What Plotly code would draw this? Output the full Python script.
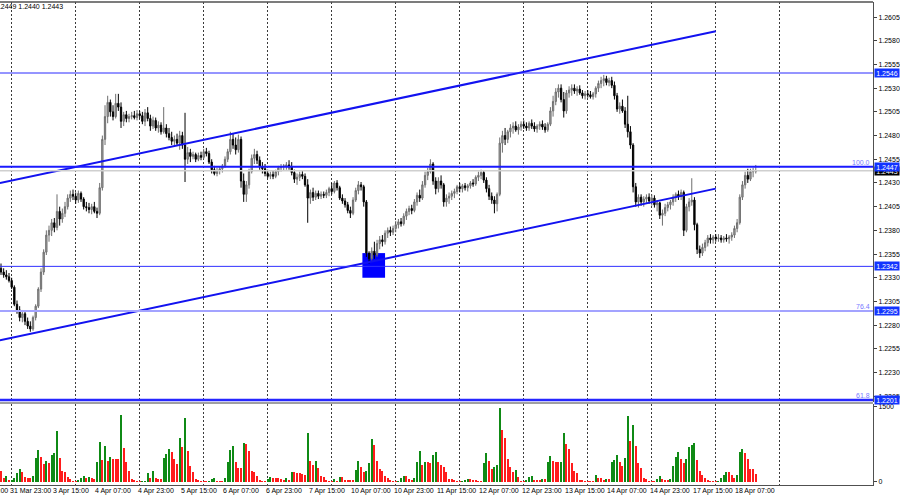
import plotly.graph_objects as go

# ---------------- data (H1 bars, prices in pips above 1.2000) ----------------
PRICE_BASE = 1.2
PIP = 0.0001

O_PIPS = [
    340, 336, 333, 331, 327, 320, 302, 296, 288, 292,
    284, 279, 276, 288, 300, 318, 336, 357, 375, 380,
    388, 383, 400, 392, 398, 405, 414, 418, 416, 412,
    419, 413, 405, 404, 402, 405, 400, 398, 425, 476,
    500, 515, 505, 500, 514, 510, 495, 502, 498, 500,
    501, 499, 503, 501, 495, 504, 498, 490, 496, 488,
    491, 484, 488, 482, 478, 474, 476, 472, 480, 470,
    455, 462, 458, 460, 455, 459, 457, 463, 461, 452,
    444, 440, 443, 445, 448, 455, 463, 476, 470, 465,
    476, 432, 418, 428, 442, 456, 460, 454, 447, 445,
    440, 437, 439, 437, 442, 446, 447, 448, 449, 447,
    441, 434, 436, 439, 437, 428, 414, 420, 415, 419,
    416, 418, 417, 420, 424, 421, 430, 425, 414, 411,
    407, 401, 398, 412, 422, 428, 426, 410, 356, 350,
    358, 354, 366, 370, 368, 377, 380, 378, 382, 386,
    389, 387, 395, 400, 403, 401, 410, 417, 414, 428,
    438, 442, 450, 432, 424, 432, 428, 410, 414, 416,
    419, 421, 426, 424, 427, 425, 427, 430, 429, 436,
    438, 441, 433, 424, 416, 412, 408, 418, 472, 480,
    476, 484, 488, 490, 486, 489, 492, 490, 488, 493,
    490, 487, 490, 492, 489, 486, 492, 506, 516, 526,
    530, 518, 506, 525, 528, 530, 527, 529, 525, 522,
    524, 523, 521, 524, 530, 535, 538, 540, 536, 538,
    533, 522, 508, 511, 506, 492, 484, 470, 426, 410,
    415, 410, 413, 415, 411, 414, 407, 409, 396, 398,
    404, 407, 410, 415, 418, 416, 420, 380, 405, 410,
    412, 386, 360, 356, 362, 367, 372, 370, 373, 371,
    372, 370, 372, 371, 373, 375, 382, 388, 415, 428,
    438, 434, 442, 442,
]
H_PIPS = [
    345, 340, 338, 335, 330, 322, 306, 300, 296, 294,
    288, 284, 290, 302, 320, 340, 360, 380, 385, 392,
    393, 418, 405, 403, 410, 418, 422, 423, 420, 422,
    421, 415, 410, 409, 408, 410, 404, 430, 480, 512,
    522, 518, 512, 524, 524, 515, 505, 506, 503, 505,
    506, 507, 506, 505, 508, 510, 502, 500, 499, 495,
    494, 510, 492, 488, 484, 480, 482, 485, 484, 504,
    468, 466, 463, 462, 462, 463, 466, 467, 464, 455,
    448, 446, 447, 450, 458, 466, 484, 482, 478, 481,
    479, 440, 432, 445, 460, 466, 464, 458, 452, 450,
    444, 442, 443, 444, 448, 450, 450, 452, 454, 452,
    444, 440, 442, 443, 440, 434, 423, 425, 422, 422,
    421, 421, 423, 426, 430, 432, 433, 427, 418, 414,
    410, 405, 415, 425, 432, 431, 428, 412, 358, 362,
    368, 370, 374, 375, 380, 383, 384, 385, 390, 392,
    393, 398, 403, 406, 407, 413, 420, 423, 432, 442,
    446, 455, 452, 436, 436, 438, 430, 418, 420, 422,
    424, 428, 430, 429, 430, 429, 432, 434, 438, 442,
    444, 443, 436, 428, 420, 416, 420, 478, 485, 488,
    486, 492, 494, 495, 492, 495, 496, 494, 495, 497,
    494, 492, 495, 496, 493, 494, 510, 522, 530, 534,
    534, 526, 528, 532, 534, 534, 532, 533, 528, 527,
    528, 527, 526, 532, 538, 542, 544, 543, 541, 542,
    537, 525, 515, 518, 510, 522, 490, 472, 430, 418,
    418, 416, 418, 419, 418, 417, 412, 410, 402, 408,
    410, 412, 418, 420, 422, 423, 422, 408, 414, 435,
    415, 388, 364, 366, 370, 375, 376, 375, 376, 376,
    375, 374, 376, 375, 378, 385, 392, 418, 432, 442,
    445, 445, 446, 449,
]
L_PIPS = [
    333, 330, 328, 325, 318, 300, 292, 284, 283, 280,
    276, 273, 274, 285, 298, 315, 333, 354, 368, 374,
    378, 380, 385, 388, 394, 402, 410, 412, 408, 409,
    410, 402, 400, 398, 397, 398, 393, 396, 422, 470,
    493, 500, 496, 498, 506, 488, 490, 494, 494, 497,
    497, 496, 498, 492, 490, 495, 485, 487, 485, 483,
    481, 482, 478, 475, 470, 468, 470, 465, 466, 431,
    450, 452, 455, 452, 453, 454, 455, 458, 450, 440,
    438, 437, 439, 441, 446, 452, 460, 466, 460, 462,
    425, 410, 410, 424, 440, 450, 450, 444, 440, 437,
    435, 434, 434, 435, 438, 442, 443, 444, 444, 438,
    430, 428, 432, 434, 426, 388, 408, 411, 412, 413,
    413, 414, 414, 416, 418, 419, 422, 412, 408, 404,
    398, 393, 396, 410, 418, 422, 405, 352, 345, 348,
    350, 352, 360, 363, 365, 372, 374, 375, 378, 382,
    384, 385, 391, 396, 397, 399, 406, 410, 412, 425,
    433, 440, 428, 418, 420, 424, 405, 405, 408, 412,
    414, 418, 420, 420, 422, 421, 424, 426, 427, 432,
    434, 430, 420, 412, 408, 398, 400, 416, 462, 470,
    472, 478, 482, 484, 481, 485, 487, 485, 485, 487,
    484, 483, 486, 486, 483, 484, 490, 500, 512, 520,
    515, 499, 503, 520, 522, 524, 522, 523, 519, 518,
    520, 519, 518, 520, 526, 530, 532, 533, 532, 530,
    518, 505, 503, 504, 488, 478, 466, 420, 405, 404,
    406, 405, 408, 408, 406, 404, 400, 392, 385, 395,
    400, 402, 406, 410, 412, 412, 374, 378, 400, 406,
    380, 355, 351, 353, 358, 363, 366, 366, 368, 368,
    367, 367, 368, 366, 369, 372, 378, 386, 412, 424,
    430, 432, 436, 440,
]
C_PIPS = [
    336, 333, 331, 327, 320, 302, 296, 288, 292, 284,
    279, 276, 288, 300, 318, 336, 357, 375, 380, 388,
    383, 400, 392, 398, 405, 414, 418, 416, 412, 419,
    413, 405, 404, 402, 405, 400, 398, 425, 476, 500,
    515, 505, 500, 514, 510, 495, 502, 498, 500, 501,
    499, 503, 501, 495, 504, 498, 490, 496, 488, 491,
    484, 488, 482, 478, 474, 476, 472, 480, 470, 455,
    462, 458, 460, 455, 459, 457, 463, 461, 452, 444,
    440, 443, 445, 448, 455, 463, 476, 470, 465, 476,
    432, 418, 428, 442, 456, 460, 454, 447, 445, 440,
    437, 439, 437, 442, 446, 447, 448, 449, 447, 441,
    434, 436, 439, 437, 428, 414, 420, 415, 419, 416,
    418, 417, 420, 424, 421, 430, 425, 414, 411, 407,
    401, 398, 412, 422, 428, 426, 410, 356, 350, 358,
    354, 366, 370, 368, 377, 380, 378, 382, 386, 389,
    387, 395, 400, 403, 401, 410, 417, 414, 428, 438,
    442, 450, 432, 424, 432, 428, 410, 414, 416, 419,
    421, 426, 424, 427, 425, 427, 430, 429, 436, 438,
    441, 433, 424, 416, 412, 408, 418, 472, 480, 476,
    484, 488, 490, 486, 489, 492, 490, 488, 493, 490,
    487, 490, 492, 489, 486, 492, 506, 516, 526, 530,
    518, 506, 525, 528, 530, 527, 529, 525, 522, 524,
    523, 521, 524, 530, 535, 538, 540, 536, 538, 533,
    522, 508, 511, 506, 492, 484, 470, 426, 410, 415,
    410, 413, 415, 411, 414, 407, 409, 396, 398, 404,
    407, 410, 415, 418, 416, 420, 380, 405, 410, 412,
    386, 360, 356, 362, 367, 372, 370, 373, 371, 372,
    370, 372, 371, 373, 375, 382, 388, 415, 428, 438,
    434, 442, 442, 443,
]
VOLUME = [
    207, 67, 113, 27,
    40, 73, 173, 247, 200, 87, 80, 73, 113, 480, 640, 487, 353, 420, 367, 540, 573, 1020, 473, 207, 187, 87, 53, 20,
    20, 27, 73, 113, 73, 100, 73, 53, 387, 800, 433, 720, 420, 487, 453, 450, 445, 1340, 673, 387, 207, 47, 40, 20,
    10, 15, 20, 167, 73, 207, 67, 47, 47, 473, 553, 653, 587, 453, 353, 873, 687, 1287, 607, 320, 200, 47, 33, 10,
    5, 5, 20, 53, 67, 20, 20, 20, 67, 387, 633, 720, 387, 267, 267, 767, 760, 620, 207, 187, 120, 40, 20, 10,
    53, 100, 73, 73, 67, 60, 33, 67, 40, 187, 187, 180, 173, 160, 127, 973, 420, 333, 407, 267, 120, 87, 40, 20,
    20, 47, 20, 100, 95, 40, 40, 40, 40, 233, 420, 300, 187, 207, 367, 853, 733, 420, 253, 207, 120, 73, 33, 15,
    10, 20, 73, 107, 107, 53, 33, 73, 400, 620, 340, 393, 387, 367, 533, 600, 393, 333, 287, 187, 60, 47, 33, 15,
    5, 20, 40, 53, 53, 33, 33, 20, 20, 367, 567, 407, 253, 300, 340, 1473, 1033, 873, 453, 300, 200, 240, 100, 10,
    5, 40, 87, 120, 40, 33, 33, 53, 53, 387, 520, 407, 387, 387, 400, 980, 753, 653, 367, 220, 167, 40, 33, 10,
    10, 10, 5, 140, 73, 73, 40, 53, 53, 387, 433, 533, 400, 320, 473, 1327, 820, 1133, 720, 367, 267, 73, 53, 10,
    10, 10, 53, 120, 53, 40, 40, 53, 320, 487, 600, 453, 367, 453, 700, 733, 773, 433, 220, 140, 67, 33, 20, 10,
    10, 20, 67, 140, 200, 200, 140, 73, 133, 600, 653, 567, 453, 253, 253, 153,
]

TICK_INDEX = [-13, 3, 19, 35, 51, 67, 83, 99, 115, 131, 147, 163, 179, 195, 211, 227, 243, 259, 275]
TICK_LABELS = ["31 Mar 07:00", "31 Mar 23:00", "3 Apr 15:00", "4 Apr 07:00", "4 Apr 23:00",
               "5 Apr 15:00", "6 Apr 07:00", "6 Apr 23:00", "7 Apr 15:00", "10 Apr 07:00",
               "10 Apr 23:00", "11 Apr 15:00", "12 Apr 07:00", "12 Apr 23:00", "13 Apr 15:00",
               "14 Apr 07:00", "14 Apr 23:00", "17 Apr 15:00", "18 Apr 07:00"]
GRID_INDEX = [4, 28, 52, 76, 100, 124, 148, 172, 196, 220, 244, 268, 292]
PRICE_TICKS = [1.2205, 1.2230, 1.2255, 1.2280, 1.2305, 1.2330, 1.2355, 1.2380, 1.2405,
               1.2430, 1.2455, 1.2480, 1.2505, 1.2530, 1.2555, 1.2580, 1.2605]
VOLUME_TICKS = [0, 1500]

LEVEL_PRICES = [1.2546, 1.2447, 1.2342, 1.2295, 1.2201]
LEVEL_COLORS = ["#2a2aff", "#1a1aff", "#3030ff", "#a3a3ff", "#2626ff"]
LEVEL_WIDTHS = [1, 2, 1, 2, 2.5]
FIB_PRICES = [1.2447, 1.2295, 1.2201]
FIB_TEXT = ["100.0", "76.4", "61.8"]
CURRENT_PRICE = 1.2443
HEADER_TEXT = "1.2449 1.2440 1.2443"

TREND_UPPER_X = [-0.4, 268]
TREND_UPPER_Y = [1.2430, 1.2590]
TREND_LOWER_X = [-0.4, 268]
TREND_LOWER_Y = [1.2264, 1.2424]
ZONE_X = [135.5, 144.0]
ZONE_Y = [1.2330, 1.2356]

# ---------------- figure ----------------
X_RANGE = [-0.375, 326.95]
PRICE_RANGE = [1.21989, 1.26209]
VOL_RANGE = [-70, 1560]
PRICE_DOMAIN = [0.1718, 1.0]
VOL_DOMAIN = [0.0, 0.1677]
FONT = "Liberation Sans, Arial, sans-serif"

idx = list(range(len(C_PIPS)))
to_price = lambda arr: [round(PRICE_BASE + v * PIP, 4) for v in arr]
vol_colors = ["#ff1c1c" if (i == 0 or VOLUME[i] <= VOLUME[i - 1]) else "#0f8a15"
              for i in range(len(VOLUME))]

fig = go.Figure()
fig.add_trace(go.Candlestick(
    x=idx, open=to_price(O_PIPS), high=to_price(H_PIPS), low=to_price(L_PIPS), close=to_price(C_PIPS),
    xaxis="x", yaxis="y", whiskerwidth=0, hoverinfo="skip", showlegend=False,
    increasing=dict(line=dict(color="#6e6e6e", width=1), fillcolor="#a6a6a6"),
    decreasing=dict(line=dict(color="#000000", width=1), fillcolor="#000000"),
))
for tx, ty in ((TREND_UPPER_X, TREND_UPPER_Y), (TREND_LOWER_X, TREND_LOWER_Y)):
    fig.add_trace(go.Scatter(x=tx, y=ty, mode="lines", xaxis="x", yaxis="y",
                             line=dict(color="#1212f0", width=2), hoverinfo="skip",
                             showlegend=False, cliponaxis=True))
fig.add_trace(go.Bar(x=idx, y=VOLUME, xaxis="x2", yaxis="y2", width=0.78,
                     marker=dict(color=vol_colors, line=dict(width=0)),
                     hoverinfo="skip", showlegend=False))

shapes = []
shapes.append(dict(type="rect", xref="x", yref="y", x0=ZONE_X[0], x1=ZONE_X[1],
                   y0=ZONE_Y[0], y1=ZONE_Y[1], fillcolor="#0000ff", line=dict(width=0), layer="below"))
shapes.append(dict(type="line", xref="paper", yref="y", x0=0, x1=1, y0=CURRENT_PRICE, y1=CURRENT_PRICE,
                   line=dict(color="#cfcfcf", width=1.5), layer="above"))
for p, c, w in zip(LEVEL_PRICES, LEVEL_COLORS, LEVEL_WIDTHS):
    shapes.append(dict(type="line", xref="paper", yref="y", x0=0, x1=1, y0=p, y1=p,
                       line=dict(color=c, width=w), layer="above"))
# panel separator and frame
shapes.append(dict(type="rect", xref="paper", yref="paper", x0=0, x1=1,
                   y0=VOL_DOMAIN[1], y1=PRICE_DOMAIN[0], fillcolor="#a0a0a0", line=dict(width=0)))
shapes.append(dict(type="line", xref="paper", yref="paper", x0=0, x1=1, y0=1, y1=1,
                   line=dict(color="#505050", width=1.5)))

annotations = []
def to_paper(i):
    return (i - X_RANGE[0]) / (X_RANGE[1] - X_RANGE[0])

for i, t in zip(TICK_INDEX, TICK_LABELS):
    annotations.append(dict(xref="paper", yref="paper", x=to_paper(i), y=-0.0124, xanchor="left",
                            yanchor="middle", xshift=-1, text=t, showarrow=False,
                            font=dict(size=7, color="#000000", family=FONT)))
annotations.append(dict(xref="paper", yref="paper", x=0, y=0.9897, xanchor="left", yanchor="middle",
                        xshift=-7, text=HEADER_TEXT, showarrow=False,
                        font=dict(size=7, color="#000000", family=FONT)))
for p, t in zip(FIB_PRICES, FIB_TEXT):
    annotations.append(dict(xref="paper", yref="y", x=1, y=p, xanchor="right", yanchor="bottom",
                            xshift=-1, yshift=-1, text=t, showarrow=False,
                            font=dict(size=7, color="#7a7aff", family=FONT)))
# current price box (black) then level boxes (blue)
annotations.append(dict(xref="paper", yref="y", x=1, y=CURRENT_PRICE, xanchor="left", yanchor="middle",
                        xshift=1, text=f"{CURRENT_PRICE:.4f}", showarrow=False, bgcolor="#000000",
                        borderpad=0, width=24, height=8, font=dict(size=7, color="#ffffff", family=FONT)))
for p in LEVEL_PRICES:
    annotations.append(dict(xref="paper", yref="y", x=1, y=p, xanchor="left", yanchor="middle",
                            xshift=1, text=f"{p:.4f}", showarrow=False, bgcolor="#1234ff",
                            borderpad=0, width=24, height=8, font=dict(size=7, color="#ffffff", family=FONT)))

axis_common = dict(range=X_RANGE, tickmode="array", tickvals=GRID_INDEX, showticklabels=False,
                   ticks="", showgrid=True, gridcolor="#3a3a3a", griddash="2px,2px", gridwidth=1,
                   zeroline=False, fixedrange=True)

fig.update_layout(
    width=900, height=500,
    margin=dict(l=0, r=27, t=2, b=15, pad=0),
    paper_bgcolor="#ffffff", plot_bgcolor="#ffffff",
    showlegend=False, hovermode=False, dragmode=False,
    font=dict(family=FONT, size=7, color="#000000"),
    xaxis=dict(domain=[0, 1], anchor="y", showline=False, rangeslider=dict(visible=False), **axis_common),
    xaxis2=dict(domain=[0, 1], anchor="y2", matches="x", showline=True, linecolor="#505050",
                linewidth=1, rangeslider=dict(visible=False), **axis_common),
    yaxis=dict(domain=PRICE_DOMAIN, range=PRICE_RANGE, side="right", anchor="x",
               tickmode="array", tickvals=PRICE_TICKS, ticktext=[f"{v:.4f}" for v in PRICE_TICKS],
               ticks="outside", ticklen=3, tickwidth=1, tickcolor="#404040",
               showgrid=False, zeroline=False, showline=True, linecolor="#505050", linewidth=1,
               tickfont=dict(size=7, family=FONT), fixedrange=True),
    yaxis2=dict(domain=VOL_DOMAIN, range=VOL_RANGE, side="right", anchor="x2",
                tickmode="array", tickvals=VOLUME_TICKS, ticktext=[str(v) for v in VOLUME_TICKS],
                ticks="outside", ticklen=3, tickwidth=1, tickcolor="#404040",
                showgrid=False, zeroline=False, showline=True, linecolor="#505050", linewidth=1,
                tickfont=dict(size=7, family=FONT), fixedrange=True),
    shapes=shapes,
    annotations=annotations,
    bargap=0,
)

fig.write_html("out.html", config={"displayModeBar": False, "staticPlot": True},
               post_script="document.body.style.margin='0';document.body.style.padding='0';")
